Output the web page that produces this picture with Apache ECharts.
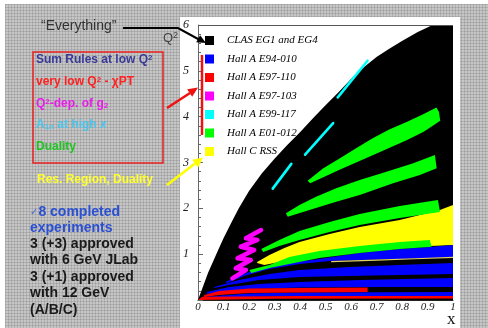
<!DOCTYPE html>
<html><head><meta charset="utf-8">
<script src="https://cdn.jsdelivr.net/npm/echarts@6/dist/echarts.min.js"></script>
<style>
html,body{margin:0;padding:0;background:#fff;}
#bg{position:absolute;left:5px;top:4px;width:483px;height:324px;background-color:#c6c6c6;
background-image:linear-gradient(90deg,rgba(0,0,0,0.11) 1px,transparent 1px),linear-gradient(rgba(0,0,0,0.11) 1px,transparent 1px);background-size:3px 3px;}
#chart{position:absolute;left:0;top:0;width:488px;height:328px;}
</style></head><body><div id="bg"></div><div id="chart"></div>
<script>
// ---- data (x, Q^2) ----
const xTickLabels = ['0','0.1','0.2','0.3','0.4','0.5','0.6','0.7','0.8','0.9','1'];
const yTickLabels = ['0','1','2','3','4','5','6'];
const seriesNames = ['CLAS EG1 and EG4','Hall A E94-010','Hall A E97-110','Hall A E97-103','Hall A E99-117','Hall A E01-012','Hall C RSS'];

const clasRegion = [[0,0],[0.02,0.3],[0.04,0.6],[0.06,0.85],[0.08,1.1],[0.1,1.35],[0.13,1.68],[0.16,2.0],[0.2,2.38],[0.25,2.76],[0.3,3.08],[0.35,3.38],[0.4,3.66],[0.45,3.96],[0.5,4.25],[0.55,4.53],[0.6,4.82],[0.65,5.08],[0.7,5.3],[0.75,5.48],[0.8,5.65],[0.86,5.84],[0.92,6],[1,6],[1,0]];

const rssRegion = [[0.232,0.829],[0.28,0.982],[0.339,1.135],[0.398,1.266],[0.516,1.44],[0.634,1.593],[0.791,1.746],[0.949,1.964],[0.969,2.007],[1,2.073],[1,1.2],[0.909,1.178],[0.791,1.156],[0.634,1.091],[0.516,1.004],[0.398,0.916],[0.319,0.829],[0.26,0.764],[0.232,0.807]];
const rssThinLine = [[0.524,0.836],[0.7,0.87],[0.85,0.9],[1,0.932]];

const e94010BandE = [[0.106,0.393],[0.161,0.524],[0.22,0.655],[0.28,0.742],[0.358,0.807],[0.476,0.895],[0.634,1.026],[0.791,1.113],[0.909,1.156],[1,1.2],[1,0.927],[0.909,0.916],[0.791,0.895],[0.634,0.873],[0.516,0.851],[0.398,0.786],[0.28,0.677],[0.181,0.524],[0.114,0.371]];
const e94010BandF = [[0.063,0.284],[0.161,0.436],[0.28,0.567],[0.398,0.655],[0.594,0.72],[0.791,0.764],[1,0.807],[1,0.567],[0.791,0.545],[0.594,0.524],[0.398,0.502],[0.24,0.436],[0.122,0.327],[0.063,0.262]];
const e94010BandG = [[0.035,0.175],[0.122,0.284],[0.24,0.349],[0.398,0.393],[0.634,0.436],[1,0.48],[1,0.284],[0.713,0.284],[0.398,0.273],[0.201,0.24],[0.063,0.153],[0.035,0.131]];
const e94010BandH = [[0.016,0.065],[0.201,0.142],[0.398,0.164],[1,0.175],[1,0.087],[0.398,0.087],[0.016,0.048]];

const e97110Band = [[0.024,0.109],[0.083,0.196],[0.201,0.251],[0.398,0.262],[0.665,0.273],[0.665,0.175],[0.398,0.164],[0.201,0.153],[0.083,0.109],[0.024,0.065]];
const e97110Line = [[0,0],[0.016,0.07],[0.4,0.085],[1,0.087],[1,0.033],[0.3,0.03],[0.01,0]];

const e97103Zigzag = [[0.135,0.473],[0.188,0.655],[0.148,0.692],[0.207,0.873],[0.155,0.91],[0.22,1.091],[0.168,1.163],[0.233,1.309],[0.188,1.346],[0.247,1.527]];

const e99117Streak1 = [[0.548,4.42],[0.665,5.22]];
const e99117Streak2 = [[0.42,3.17],[0.53,3.86]];
const e99117Streak3 = [[0.293,2.43],[0.366,2.97]];

const e01012BandA = [[0.43,2.6],[0.49,2.87],[0.555,3.09],[0.62,3.31],[0.685,3.53],[0.75,3.72],[0.82,3.89],[0.885,4.06],[0.935,4.2],[0.945,4.1],[0.95,3.91],[0.885,3.67],[0.82,3.49],[0.685,3.16],[0.555,2.84],[0.44,2.55]];
const e01012BandB = [[0.345,1.892],[0.398,2.073],[0.463,2.254],[0.542,2.437],[0.634,2.618],[0.739,2.799],[0.844,2.983],[0.929,3.164],[0.936,2.874],[0.87,2.727],[0.765,2.546],[0.634,2.291],[0.542,2.145],[0.437,1.964],[0.352,1.818]];
const e01012BandC = [[0.248,1.113],[0.319,1.309],[0.398,1.506],[0.516,1.702],[0.634,1.877],[0.791,2.051],[0.941,2.182],[0.949,1.92],[0.791,1.789],[0.634,1.636],[0.516,1.484],[0.398,1.309],[0.319,1.178],[0.256,1.047]];
const e01012BandD = [[0.201,0.655],[0.28,0.764],[0.358,0.938],[0.476,1.069],[0.634,1.178],[0.791,1.266],[0.909,1.309],[0.916,1.163],[0.791,1.113],[0.634,1.026],[0.476,0.916],[0.358,0.786],[0.28,0.698],[0.209,0.589]];

// ---- rendering ----
const SERIF = "'Liberation Serif','DejaVu Serif',serif";
const SANS = "'Liberation Sans',Arial,'DejaVu Sans',sans-serif";

function shapeSeries(name, color, shapes, kind, width) {
  return {
    type: 'custom', name: name, coordinateSystem: 'cartesian2d', silent: true, clip: true,
    itemStyle: { color: color }, animation: false,
    data: shapes.map((s, i) => [s[0][0], s[0][1], i]),
    encode: { x: 0, y: 1 },
    renderItem: function (params, api) {
      const pts = shapes[params.dataIndex].map(p => api.coord(p));
      if (kind === 'line') {
        return { type: 'polyline', shape: { points: pts },
          style: { stroke: color, lineWidth: width, fill: null, lineCap: 'round', lineJoin: 'round' } };
      }
      return { type: 'polygon', shape: { points: pts }, style: { fill: color } };
    }
  };
}

function txt(x, y, text, fill, size, weight, rich, family) {
  const fam = family || SANS;
  const r = {};
  if (rich) {
    for (const k in rich) {
      r[k] = Object.assign({ fontFamily: fam, fontWeight: weight, fontSize: size, fill: fill }, rich[k]);
    }
  }
  return { type: 'text', x: x, y: y, z: 50, silent: true,
    style: { text: text, fill: fill, fontFamily: fam, fontWeight: weight, fontSize: size,
      align: 'left', verticalAlign: 'middle', rich: r } };
}
function arrowHead(tx, ty, dx, dy, len, half, color) {
  const n = Math.hypot(dx, dy); const ux = dx / n, uy = dy / n;
  const bx = tx - len * ux, by = ty - len * uy;
  return { type: 'polygon', z: 100, silent: true,
    shape: { points: [[tx, ty], [bx - half * uy, by + half * ux], [bx + half * uy, by - half * ux]] },
    style: { fill: color } };
}

const chart = echarts.init(document.getElementById('chart'), null, { renderer: 'canvas' });
const supS = { fontSize: 8, verticalAlign: 'top' };
const subS = { fontSize: 8, verticalAlign: 'bottom' };

chart.setOption({
  animation: false,
  backgroundColor: 'transparent',
  grid: { left: 198, right: 35, top: 25, bottom: 28 },
  xAxis: {
    type: 'value', min: 0, max: 1, interval: 0.1,
    axisLine: { show: true, onZero: false, lineStyle: { color: '#222', width: 1 } },
    axisTick: { show: false }, splitLine: { show: false },
    axisLabel: { formatter: v => xTickLabels[Math.round(v * 10)], fontFamily: SERIF, fontStyle: 'italic',
      fontSize: 11, color: '#222', margin: 2 }
  },
  yAxis: {
    type: 'value', min: 0, max: 6, interval: 1,
    axisLine: { show: true, lineStyle: { color: '#666', width: 1 } },
    axisTick: { show: true, inside: true, length: 5, lineStyle: { color: '#666' } },
    minorTick: { show: true, splitNumber: 5, length: 3, lineStyle: { color: '#666' } },
    splitLine: { show: false },
    axisLabel: { formatter: v => (v === 0 ? '' : yTickLabels[v]), fontFamily: SERIF, fontStyle: 'italic',
      fontSize: 12, color: '#222', margin: 9 }
  },
  legend: {
    orient: 'vertical', left: 205, top: 34, padding: 0, z: 20, itemWidth: 9, itemHeight: 9, itemGap: 5.5,
    icon: 'rect', selectedMode: false, data: seriesNames,
    textStyle: { fontFamily: SERIF, fontStyle: 'italic', fontSize: 11, color: '#000', lineHeight: 13, padding: [0, 0, 0, 8] }
  },
  series: [
    shapeSeries(seriesNames[0], '#000000', [clasRegion], 'fill'),
    shapeSeries(seriesNames[6], '#ffff00', [rssRegion], 'fill'),
    shapeSeries(seriesNames[1], '#0000ff', [e94010BandE, e94010BandF, e94010BandG, e94010BandH], 'fill'),
    shapeSeries(seriesNames[5], '#00ff00', [e01012BandA, e01012BandB, e01012BandC, e01012BandD], 'fill'),
    shapeSeries(seriesNames[2], '#ff0000', [e97110Band, e97110Line], 'fill'),
    shapeSeries(seriesNames[3], '#ff00ff', [e97103Zigzag], 'line', 4.5),
    shapeSeries(seriesNames[4], '#00ffff', [e99117Streak1, e99117Streak2, e99117Streak3], 'line', 2.6),
    shapeSeries(seriesNames[6], '#e0d060', [rssThinLine], 'line', 1.2)
  ],
  graphic: [
    { type: 'rect', z: -10, silent: true, shape: { x: 180, y: 17, width: 280, height: 311 }, style: { fill: '#fff' } },
    { type: 'line', z: 10, silent: true, shape: { x1: 198, y1: 25.5, x2: 453, y2: 25.5 }, style: { stroke: '#555', lineWidth: 1 } },
    txt(447, 320, 'x', '#111', 17, 'normal', null, SERIF),
    txt(163, 38, 'Q{s|2}', '#444', 13, 'normal', { s: { fontSize: 9, verticalAlign: 'top' } }),
    txt(41, 26, '\u201CEverything\u201D', '#333', 14, 'normal'),
    { type: 'rect', z: 40, silent: true, shape: { x: 33, y: 52, width: 130, height: 111 }, style: { fill: null, stroke: '#e82020', lineWidth: 1.5 } },
    txt(36, 60, 'Sum Rules at low Q{s|2}', '#3a3a98', 12, 'bold', { s: supS }),
    txt(36, 82, 'very low Q{s|2} - \u03C7PT', '#ff2020', 12, 'bold', { s: supS }),
    txt(36, 104, 'Q{s|2}-dep. of g{b|2}', '#e81ee8', 12, 'bold', { s: supS, b: subS }),
    txt(36, 125, 'A{b|1n} at high {i|x}', '#4cc4ea', 12, 'bold', { b: subS, i: { fontStyle: 'italic' } }),
    txt(36, 147, 'Duality', '#22c422', 12, 'bold'),
    txt(37, 180, 'Res. Region, Duality', '#ffff30', 12, 'bold'),
    txt(30, 212, '{c|\u2713}8 completed', '#2a4fd2', 14, 'bold', { c: { fontSize: 10, fontWeight: 'normal', fill: '#4a6ad8', fontFamily: "'DejaVu Sans',sans-serif" } }),
    txt(30, 228, 'experiments', '#2a4fd2', 14, 'bold'),
    txt(30, 244, '3 (+3) approved', '#1a1a1a', 14, 'bold'),
    txt(30, 260, 'with 6 GeV JLab', '#1a1a1a', 14, 'bold'),
    txt(30, 277, '3 (+1) approved', '#1a1a1a', 14, 'bold'),
    txt(30, 293, 'with 12 GeV', '#1a1a1a', 14, 'bold'),
    txt(30, 310, '(A/B/C)', '#1a1a1a', 14, 'bold'),
    // arrows
    { type: 'polyline', z: 100, silent: true, shape: { points: [[123, 28], [178, 28], [199, 39.5]] }, style: { stroke: '#000', lineWidth: 2, fill: null } },
    arrowHead(206, 43, 27, 15, 9, 4, '#000'),
    { type: 'line', z: 100, silent: true, shape: { x1: 167, y1: 108, x2: 190, y2: 93 }, style: { stroke: '#f01010', lineWidth: 2.5 } },
    arrowHead(198, 87.5, 30, -20, 10, 4.5, '#f01010'),
    { type: 'line', z: 100, silent: true, shape: { x1: 202, y1: 55, x2: 202, y2: 135 }, style: { stroke: '#f01010', lineWidth: 2.5 } },
    { type: 'line', z: 100, silent: true, shape: { x1: 167, y1: 185, x2: 195, y2: 163.5 }, style: { stroke: '#ffff00', lineWidth: 2.5 } },
    arrowHead(203, 157.5, 35, -27, 10, 5, '#ffff00')
  ]
});
</script></body></html>
